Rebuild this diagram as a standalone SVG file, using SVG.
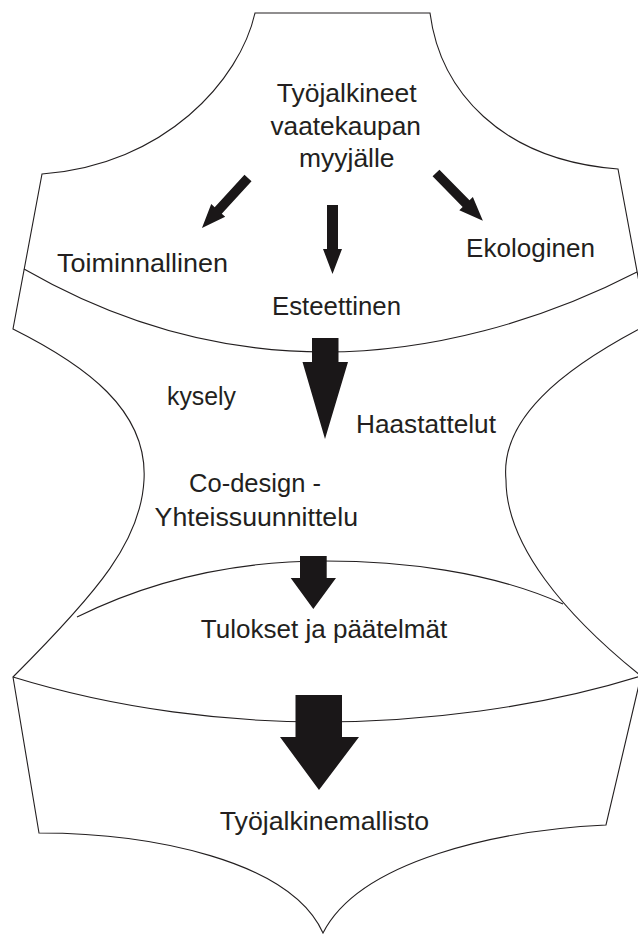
<svg xmlns="http://www.w3.org/2000/svg" width="638" height="936" viewBox="0 0 638 936">
  <style>
    .outline { fill: none; stroke: #231f20; stroke-width: 1.1; stroke-linejoin: miter; }
    .arrow { fill: #1a1718; stroke: none; }
    .lbl { font-family: "Liberation Sans", Arial, sans-serif; font-size: 26.5px; fill: #231f20; text-anchor: middle; }
  </style>
  <rect x="0" y="0" width="638" height="936" fill="#ffffff"/>

  <g id="hide">
    <path class="outline" d="M255,13 L430,13 C440,90 500,160 618,169 L647,325 C560,370 500,420 506,480 C506,545 565,615 641,676 L606,825 C500,830 360,860 323,933 C290,860 150,833 39,833 L13,677 C100,590 141,540 144,480 C148,410 85,365 13,329 L42,174 C165,165 240,80 255,13 Z"/>
    <path class="outline" d="M24,269 C130,330 230,352 325,352 C430,352 540,322 637,272"/>
    <path class="outline" d="M77,617 C170,571 260,561 325,561 C400,561 490,571 563,604"/>
    <path class="outline" d="M13,677 C120,710 230,722 320,722 C420,722 540,708 641,676"/>
  </g>

  <g id="connectors">
    <polygon class="arrow" transform="translate(248,178) rotate(42.6)" points="-4.8,0 4.8,0 4.8,44 9.5,44 0,68 -9.5,44 -4.8,44"/>
    <polygon class="arrow" transform="translate(436,173) rotate(-44.4)" points="-4.8,0 4.8,0 4.8,43 9.5,43 0,67 -9.5,43 -4.8,43"/>
    <polygon class="arrow" points="327,205 338,205 338,249 342,249 332.5,274 323,249 327,249"/>
    <polygon class="arrow" points="312,338 338.5,338 338.5,362 348,362 325,439 302.5,362 312,362"/>
    <polygon class="arrow" points="300,556 326.7,556 326.7,578 336,578 313.3,609 290.7,578 300,578"/>
    <polygon class="arrow" points="295.5,695 342,695 342,737 359,737 319,790 280,737 295.5,737"/>
  </g>

  <g id="node-start">
    <text class="lbl" x="346.7" y="102" textLength="140" lengthAdjust="spacingAndGlyphs">Työjalkineet</text>
    <text class="lbl" x="345.7" y="135" textLength="150.5" lengthAdjust="spacingAndGlyphs">vaatekaupan</text>
    <text class="lbl" x="346.8" y="167" textLength="95.6" lengthAdjust="spacingAndGlyphs">myyjälle</text>
  </g>
  <g id="node-toiminnallinen">
    <text class="lbl" x="142.5" y="272" textLength="171" lengthAdjust="spacingAndGlyphs">Toiminnallinen</text>
  </g>
  <g id="node-esteettinen">
    <text class="lbl" x="336.5" y="315" textLength="129" lengthAdjust="spacingAndGlyphs">Esteettinen</text>
  </g>
  <g id="node-ekologinen">
    <text class="lbl" x="530.5" y="257" textLength="129" lengthAdjust="spacingAndGlyphs">Ekologinen</text>
  </g>
  <g id="node-kysely">
    <text class="lbl" x="201.5" y="405" textLength="69" lengthAdjust="spacingAndGlyphs">kysely</text>
  </g>
  <g id="node-haastattelut">
    <text class="lbl" x="426" y="433" textLength="140" lengthAdjust="spacingAndGlyphs">Haastattelut</text>
  </g>
  <g id="node-codesign">
    <text class="lbl" x="255" y="492" textLength="132" lengthAdjust="spacingAndGlyphs">Co-design -</text>
    <text class="lbl" x="256.3" y="526" textLength="203.4" lengthAdjust="spacingAndGlyphs">Yhteissuunnittelu</text>
  </g>
  <g id="node-tulokset">
    <text class="lbl" x="324" y="638" textLength="246.5" lengthAdjust="spacingAndGlyphs">Tulokset ja päätelmät</text>
  </g>
  <g id="node-mallisto">
    <text class="lbl" x="324.4" y="830" textLength="209.3" lengthAdjust="spacingAndGlyphs">Työjalkinemallisto</text>
  </g>
</svg>
